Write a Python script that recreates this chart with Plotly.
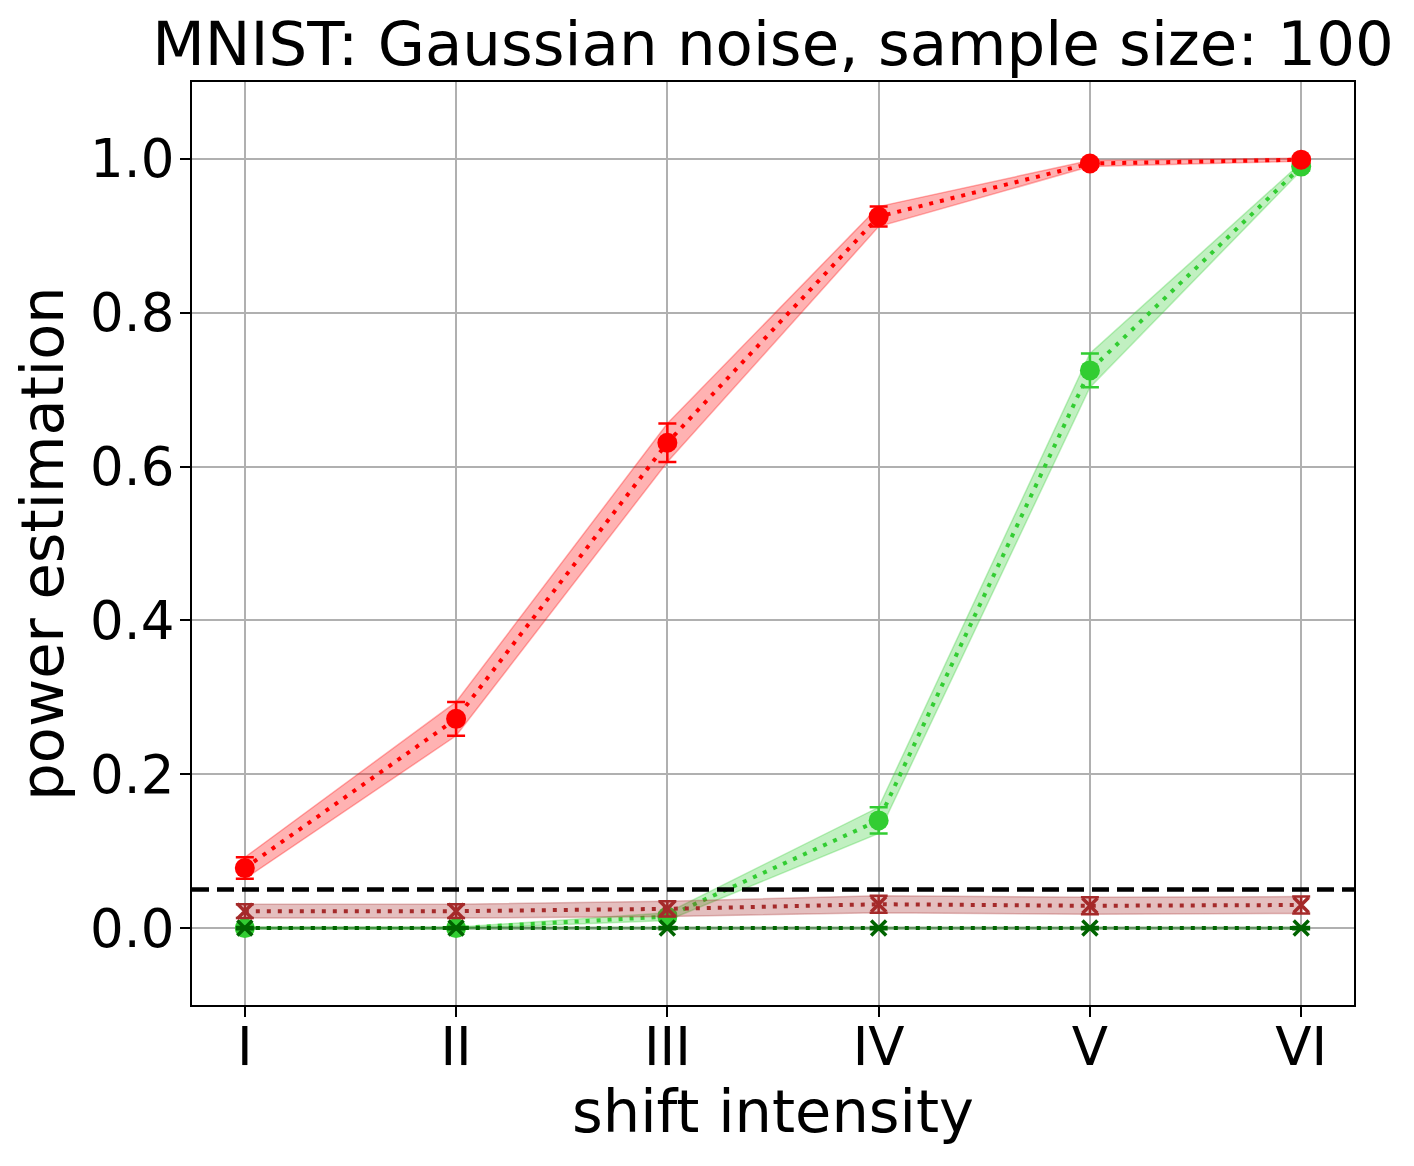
import plotly.graph_objects as go

categories = ["I", "II", "III", "IV", "V", "VI"]
x_pos = [0, 1, 2, 3, 4, 5]

# red circles
red_vals = [0.078, 0.272, 0.631, 0.925, 0.994, 0.999]
red_err = [0.014, 0.022, 0.025, 0.013, 0.004, 0.002]
# lime green circles
lime_vals = [0.0, 0.0, 0.015, 0.140, 0.725, 0.990]
lime_err = [0.001, 0.001, 0.005, 0.017, 0.022, 0.005]
# brown x
brown_vals = [0.022, 0.022, 0.025, 0.031, 0.029, 0.030]
brown_err = [0.009, 0.009, 0.010, 0.011, 0.011, 0.011]
# dark green x
dgreen_vals = [0.0, 0.0, 0.0, 0.0, 0.0, 0.0]
dgreen_err = [0.0015, 0.0015, 0.0015, 0.0015, 0.0015, 0.0015]

alpha_level = 0.05

fig = go.Figure()


def add_series(vals, err, rgb, symbol, msize, mline):
    r, g, b = rgb
    band = f"rgba({r},{g},{b},0.3)"
    solid = f"rgb({r},{g},{b})"
    upper = [v + e for v, e in zip(vals, err)]
    lower = [v - e for v, e in zip(vals, err)]
    fig.add_trace(go.Scatter(x=x_pos, y=lower, mode="lines",
                             line=dict(color=band, width=1.5),
                             hoverinfo="skip", showlegend=False))
    fig.add_trace(go.Scatter(x=x_pos, y=upper, mode="lines", fill="tonexty",
                             fillcolor=band, line=dict(color=band, width=1.5),
                             hoverinfo="skip", showlegend=False))
    if mline:
        marker = dict(symbol=symbol, size=msize, color=solid,
                      line=dict(color=solid, width=3.5))
    else:
        marker = dict(symbol=symbol, size=msize, color=solid,
                      line=dict(width=0))
    fig.add_trace(go.Scatter(
        x=x_pos, y=vals, mode="lines+markers",
        line=dict(color=solid, width=4, dash="4px,7px"),
        marker=marker,
        error_y=dict(type="data", array=err, visible=True, color=solid,
                     thickness=2.5, width=9),
        showlegend=False))


add_series(lime_vals, lime_err, (50, 205, 50), "circle", 20, False)
add_series(dgreen_vals, dgreen_err, (0, 100, 0), "x-thin", 15, True)
add_series(red_vals, red_err, (255, 0, 0), "circle", 20, False)
add_series(brown_vals, brown_err, (165, 42, 42), "x-thin", 15, True)

fig.add_shape(type="line", xref="paper", x0=0, x1=1, yref="y",
              y0=alpha_level, y1=alpha_level,
              line=dict(color="black", width=4.5, dash="17px,8px"))

font_family = "DejaVu Sans"
fig.update_layout(
    width=1398, height=1150,
    margin=dict(l=184, r=52, t=74, b=153),
    paper_bgcolor="white", plot_bgcolor="white",
    font=dict(family=font_family, color="black"),
    title=dict(text="MNIST: Gaussian noise, sample size: 100",
               font=dict(size=61, family=font_family, color="black"),
               x=0.5, xref="paper", xanchor="center",
               y=1, yref="paper", yanchor="bottom", pad=dict(b=17)),
)
fig.update_xaxes(
    range=[-0.25, 5.25], tickmode="array", tickvals=x_pos, ticktext=categories,
    showgrid=True, gridcolor="#b0b0b0", gridwidth=1.6,
    showline=True, linecolor="black", linewidth=2, mirror=True,
    ticks="outside", ticklen=10, tickwidth=2, tickcolor="black",
    ticklabelstandoff=-16,
    tickfont=dict(size=53, family=font_family, color="black"),
    title=dict(text="shift intensity", standoff=0,
               font=dict(size=59, family=font_family, color="black")),
    zeroline=False,
)
fig.update_yaxes(
    range=[-0.1, 1.1], tickmode="array", tickvals=[0, 0.2, 0.4, 0.6, 0.8, 1.0],
    ticktext=["0.0", "0.2", "0.4", "0.6", "0.8", "1.0"],
    showgrid=True, gridcolor="#b0b0b0", gridwidth=1.6,
    showline=True, linecolor="black", linewidth=2, mirror=True,
    ticks="outside", ticklen=10, tickwidth=2, tickcolor="black",
    ticklabelstandoff=-5,
    tickfont=dict(size=53, family=font_family, color="black"),
    title=dict(text="power estimation", standoff=14,
               font=dict(size=59, family=font_family, color="black")),
    zeroline=False,
)

fig.write_html("out.html")
